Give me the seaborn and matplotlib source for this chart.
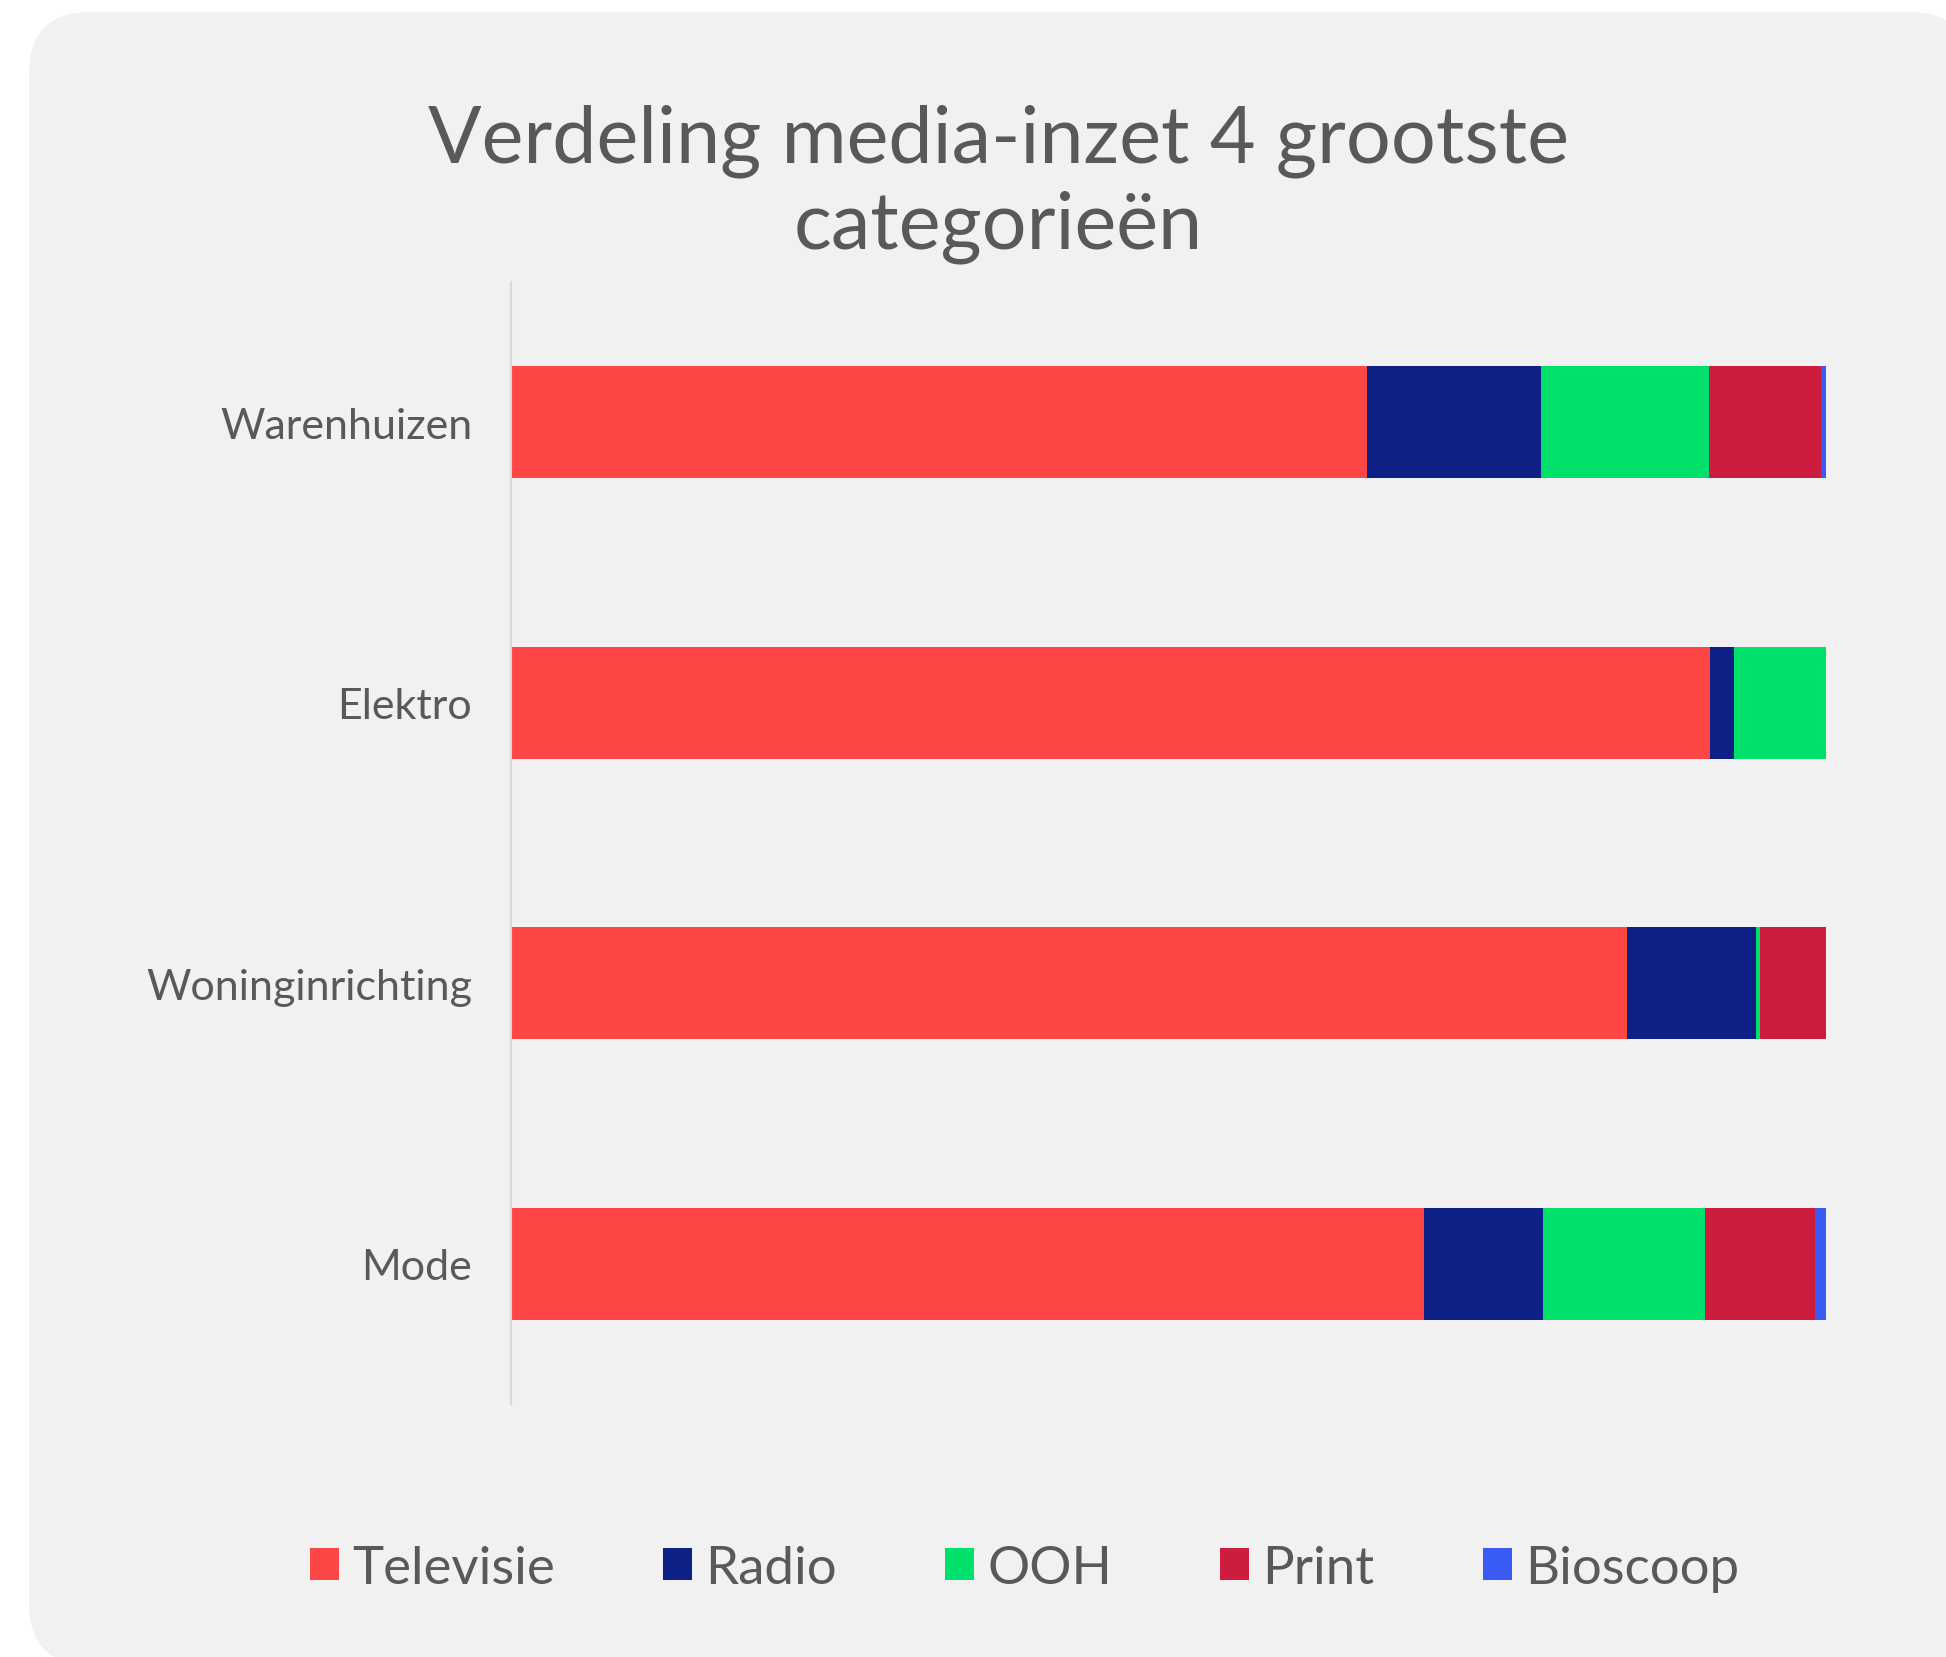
import matplotlib
matplotlib.use("Agg")
import matplotlib.pyplot as plt
import seaborn as sns
import pandas as pd
from matplotlib.patches import FancyBboxPatch, Patch
from matplotlib.transforms import IdentityTransform

# Data (share of media spend, %)
categories = ["Warenhuizen", "Elektro", "Woninginrichting", "Mode"]
media = ["Televisie", "Radio", "OOH", "Print", "Bioscoop"]
televisie = [65.1, 91.2, 84.9, 69.4]
radio = [13.2, 1.8, 9.8, 9.1]
ooh = [12.8, 7.0, 0.3, 12.3]
printed = [8.5, 0.0, 5.0, 8.4]
bioscoop = [0.4, 0.0, 0.0, 0.8]
colors = ["#FF4646", "#0D2085", "#00E06B", "#CE1C3E", "#3A5CF5"]

df = pd.DataFrame({"Categorie": categories, "Televisie": televisie, "Radio": radio,
                   "OOH": ooh, "Print": printed, "Bioscoop": bioscoop})
cum = df[media].cumsum(axis=1)
cum["Categorie"] = df["Categorie"]

text_color = "#595959"
bg = "#F1F1F1"

sns.set_style("white")
plt.rcParams["font.family"] = ["Lato", "DejaVu Sans"]

fig = plt.figure(figsize=(19.46, 16.58), dpi=100)
fig.patch.set_facecolor("white")

# rounded background panel
panel = FancyBboxPatch((29, -8), 1942, 1653,
                       boxstyle="round,pad=0,rounding_size=62",
                       transform=IdentityTransform(), facecolor=bg,
                       edgecolor="none", zorder=-10)
fig.patches.append(panel)

ax = fig.add_axes([0.2626, 0.1526, 0.9383 - 0.2626, 0.8293 - 0.1526])
ax.set_facecolor("none")

# stacked bars: draw cumulative totals from last series to first
for name, col in reversed(list(zip(media, colors))):
    sns.barplot(data=cum, x=name, y="Categorie", order=categories,
                color=col, width=0.4, orient="h", linewidth=0, ax=ax,
                saturation=1)

ax.set_xlim(0, 100)
ax.set_ylim(3.5, -0.5)
ax.set_xlabel("")
ax.set_ylabel("")
ax.set_xticks([])
ax.tick_params(axis="y", length=0, pad=28, labelsize=31, labelcolor=text_color)
for s in ["top", "right", "bottom"]:
    ax.spines[s].set_visible(False)
ax.spines["left"].set_color("#D9D9D9")
ax.spines["left"].set_linewidth(1.5)

fig.text(0.513, 0.8504, "Verdeling media-inzet 4 grootste\ncategorieën",
         ha="center", va="baseline", fontsize=57, color=text_color,
         linespacing=1.2)

handles = [Patch(facecolor=c, edgecolor="none") for c in colors]
leg = fig.legend(handles, media, loc="center", bbox_to_anchor=(0.5265, 0.0536),
                 ncol=5, frameon=False, fontsize=38, handlelength=0.55,
                 handleheight=0.55, handletextpad=0.25, columnspacing=2.05)
for t in leg.get_texts():
    t.set_color(text_color)

fig.savefig("out.png", dpi=100, facecolor="white")
